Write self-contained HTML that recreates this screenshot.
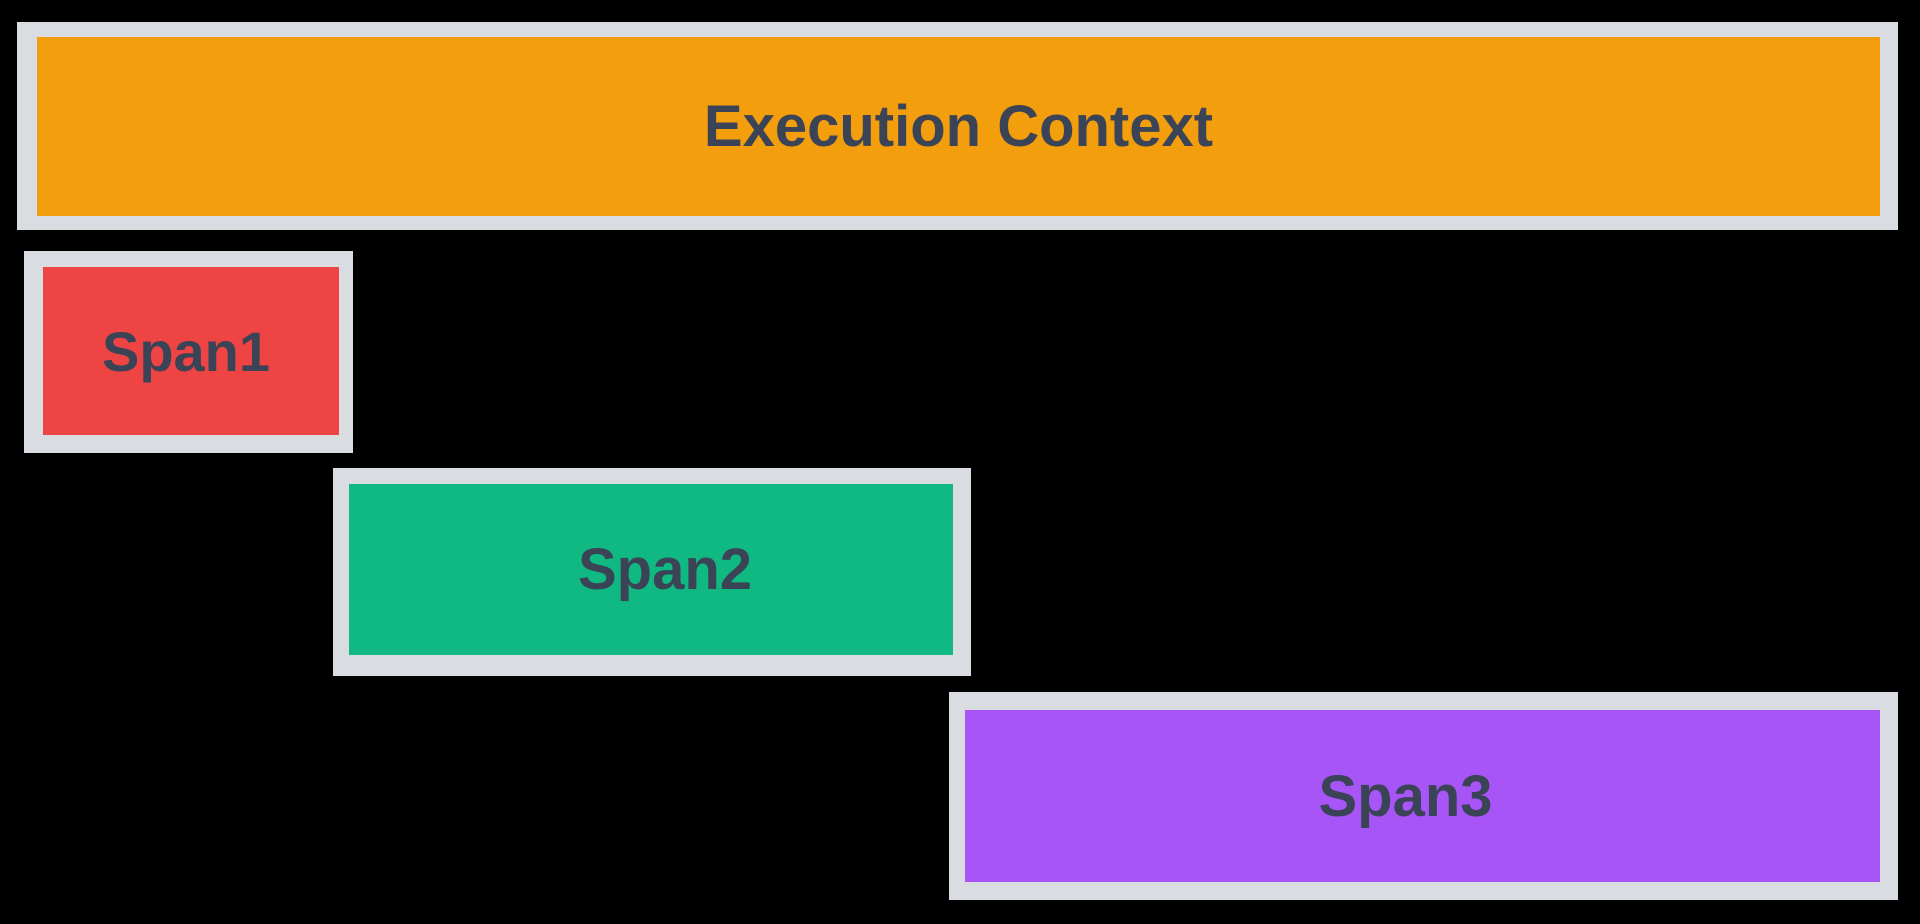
<!DOCTYPE html>
<html><head><style>
html,body{margin:0;padding:0;background:#000;width:1920px;height:924px;overflow:hidden}
.o{position:absolute;background:#d9dde1}
.i{position:absolute;display:flex;align-items:center;justify-content:center;font-family:"Liberation Sans",sans-serif;font-weight:bold;color:#3b4357;font-size:58px;box-sizing:border-box}
</style></head><body>
<div class="o" style="left:17px;top:22px;width:1881px;height:208px"></div>
<div class="i" style="left:37px;top:37px;width:1843px;height:179px;background:#f39e0c">Execution Context</div>
<div class="o" style="left:24px;top:251px;width:329px;height:202px"></div>
<div class="i" style="left:43px;top:267px;width:296px;height:168px;background:#ef4444;padding-right:10px;font-size:56px">Span1</div>
<div class="o" style="left:333px;top:468px;width:638px;height:208px"></div>
<div class="i" style="left:349px;top:484px;width:604px;height:171px;background:#10b981;padding-left:28px">Span2</div>
<div class="o" style="left:949px;top:692px;width:949px;height:208px"></div>
<div class="i" style="left:965px;top:710px;width:915px;height:172px;background:#a855f7;padding-right:34px">Span3</div>
</body></html>
